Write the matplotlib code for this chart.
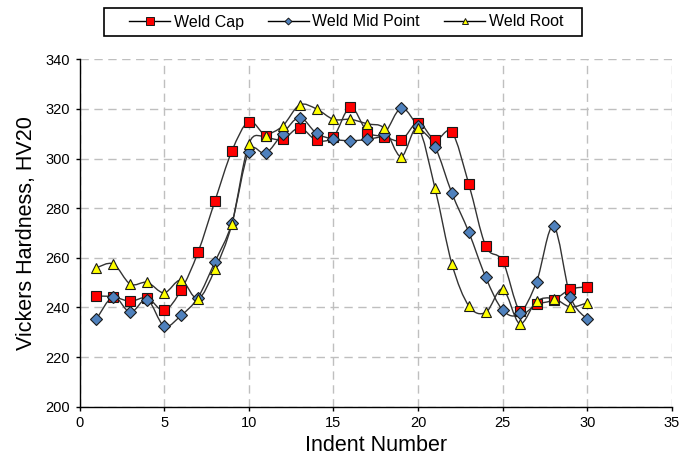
import numpy as np
import matplotlib.pyplot as plt
from matplotlib.path import Path
from matplotlib.patches import PathPatch, Rectangle
from matplotlib.lines import Line2D

plt.rcParams['font.family'] = ['Liberation Sans', 'DejaVu Sans']

indent = list(range(1, 31))
weld_cap = [244.6, 244.3, 242.5, 243.9, 238.8, 247.0, 262.2, 282.9, 303.0, 314.9,
            309.1, 307.8, 312.4, 307.4, 308.8, 320.7, 310.8, 308.8, 307.4, 314.5,
            307.5, 310.6, 289.6, 264.7, 258.7, 238.6, 241.3, 243.0, 247.3, 248.3]
weld_mid = [235.3, 244.3, 238.0, 243.2, 232.5, 236.8, 244.0, 258.4, 274.0, 302.8,
            302.1, 310.0, 316.5, 310.2, 307.8, 307.2, 307.8, 310.0, 320.3, 313.0,
            304.8, 286.0, 270.3, 252.1, 238.9, 237.6, 250.3, 272.8, 244.3, 235.2]
weld_root = [256.0, 257.5, 249.4, 250.1, 245.9, 251.0, 243.5, 255.3, 273.6, 305.9,
             309.2, 313.1, 321.6, 320.0, 315.8, 315.8, 314.0, 312.2, 300.8, 312.2,
             288.0, 257.5, 240.6, 238.0, 247.4, 233.5, 242.5, 243.6, 240.2, 241.9]


def smooth_path(x, y):
    # Catmull-Rom style bezier through every point (spreadsheet "smoothed line")
    p = np.column_stack([x, y]).astype(float)
    n = len(p)
    verts = [p[0]]
    codes = [Path.MOVETO]
    for i in range(n - 1):
        p0 = p[i - 1] if i > 0 else p[i]
        p3 = p[i + 2] if i + 2 < n else p[i + 1]
        c1 = p[i] + (p[i + 1] - p0) / 6.0
        c2 = p[i + 1] - (p3 - p[i]) / 6.0
        verts += [c1, c2, p[i + 1]]
        codes += [Path.CURVE4] * 3
    return Path(verts, codes)


W, H = 682, 466
fig = plt.figure(figsize=(W / 100, H / 100), dpi=100)
ax = fig.add_axes([79.5 / W, 1 - 406.7 / H, 592.5 / W, 347.4 / H])

series = [
    (weld_cap, 'Weld Cap', 's', '#FF0000', 7, 5.5),
    (weld_mid, 'Weld Mid Point', 'D', '#4F81BD', 6.2, 3.5),
    (weld_root, 'Weld Root', '^', '#FFFF00', 7.5, 5),
]

handles = []
for vals, name, mk, col, ms, lms in series:
    ax.add_patch(PathPatch(smooth_path(indent, vals), fill=False,
                           edgecolor='#333333', lw=1.0, zorder=2))
    ax.plot(indent, vals, ls='none', marker=mk, ms=ms, mfc=col,
            mec='#1a1a1a', mew=0.8, zorder=3)
    handles.append(Line2D([], [], color='black', lw=1.0, marker=mk,
                          ms=lms, mfc=col, mec='#1a1a1a', mew=0.7))

ax.set_xlim(0, 35)
ax.set_ylim(200, 340)
ax.set_xticks(range(0, 36, 5))
ax.set_yticks(range(200, 341, 20))
ax.grid(True, ls=(0, (6, 4)), color='#BFBFBF', lw=1.0)
ax.set_axisbelow(True)
for side in ('top', 'right'):
    ax.spines[side].set_visible(False)
for side in ('left', 'bottom'):
    ax.spines[side].set_linewidth(1.0)
ax.tick_params(direction='out', length=3, width=1, labelsize=10.5, pad=4)

ax.set_xlabel('Indent Number', fontsize=15.5, labelpad=3)
ax.set_ylabel('Vickers Hardness, HV20', fontsize=15.5, labelpad=6)

# legend entries without their own frame, boxed by a wider rectangle
fig.legend(handles, [s[1] for s in series], loc='center',
           bbox_to_anchor=(346 / W, 1 - 22 / H), ncol=3,
           fontsize=11.5, frameon=False,
           handlelength=2.6, handletextpad=0.2, columnspacing=1.5,
           borderpad=0.4, borderaxespad=0)
fig.patches.append(Rectangle((104 / W, 1 - 36 / H), 478 / W, 28 / H,
                             transform=fig.transFigure, fill=False,
                             edgecolor='black', lw=1.2))

fig.savefig('out.png', dpi=100)
